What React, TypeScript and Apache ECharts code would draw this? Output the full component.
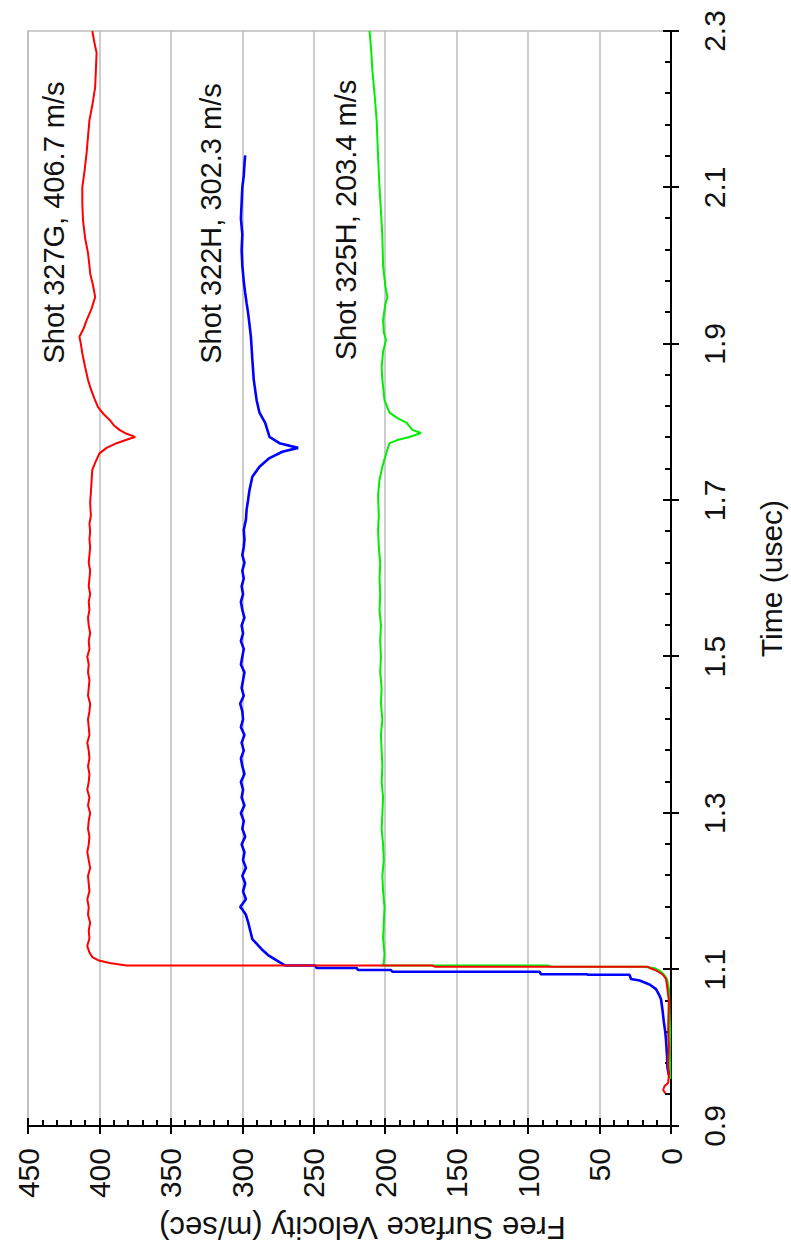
import React, { useEffect, useRef } from "react";
import * as echarts from "echarts";

// Time (usec), velocity (m/s)
const shot327G: number[][] = [
  [0.942, 4], [0.946, 5.5], [0.951, 4.5], [0.955, 2], [0.965, 1.5], [0.98, 2.2], [1.0, 1.5], [1.02, 2],
  [1.04, 1.8], [1.06, 1.5], [1.075, 2.5], [1.088, 3.5], [1.094, 6], [1.099, 10.5], [1.102, 15],
  [1.1035, 16], [1.1035, 165], [1.1052, 167], [1.1052, 381], [1.1083, 393], [1.112, 401], [1.116, 405],
  [1.122, 407], [1.13, 408.5], [1.14, 407], [1.15, 407.5], [1.16, 406.5], [1.17, 408], [1.18, 407.5],
  [1.19, 408.5], [1.2, 407], [1.21, 407.5], [1.22, 408], [1.23, 406.5], [1.24, 407.5], [1.25, 408.5],
  [1.26, 407.5], [1.27, 407], [1.28, 408], [1.29, 407.5], [1.3, 406.5], [1.31, 408], [1.32, 407],
  [1.33, 408.5], [1.34, 407.5], [1.35, 407], [1.36, 408], [1.37, 407], [1.38, 407.5], [1.39, 408.5],
  [1.4, 407], [1.41, 407.5], [1.42, 408], [1.43, 407], [1.44, 406.5], [1.45, 408], [1.46, 407.5],
  [1.47, 407], [1.48, 408], [1.49, 407.5], [1.5, 408.5], [1.51, 407], [1.52, 407.5], [1.53, 406.5],
  [1.54, 407.5], [1.55, 408], [1.56, 407], [1.57, 407.5], [1.58, 406.5], [1.59, 407.5], [1.6, 407],
  [1.61, 406.5], [1.62, 407.5], [1.63, 407], [1.64, 406.5], [1.65, 407], [1.66, 406.5], [1.67, 407],
  [1.68, 406], [1.697, 406.5], [1.71, 406], [1.725, 405.5], [1.739, 405], [1.75, 402.5], [1.76, 400],
  [1.767, 395], [1.773, 388], [1.778, 380], [1.781, 375], [1.785, 381], [1.79, 386], [1.796, 390],
  [1.803, 393], [1.81, 397], [1.819, 401], [1.83, 403.5], [1.842, 406], [1.854, 408], [1.87, 410],
  [1.888, 412], [1.9, 413], [1.909, 414], [1.92, 411], [1.93, 409], [1.945, 405.5], [1.96, 403],
  [1.975, 404.5], [1.99, 406.5], [2.0, 407], [2.016, 408], [2.035, 410], [2.058, 411.5], [2.08, 412],
  [2.1, 412], [2.12, 410.5], [2.144, 409], [2.165, 408], [2.186, 407], [2.205, 405], [2.228, 403],
  [2.25, 402.5], [2.272, 402], [2.285, 403.5], [2.3, 405],
];

const shot322H: number[][] = [
  [0.965, 1.5], [0.975, 2.5], [0.99, 2.8], [1.01, 3.5], [1.02, 4], [1.033, 5], [1.049, 6], [1.062, 7],
  [1.068, 8.4], [1.075, 10.5], [1.081, 15], [1.086, 22], [1.088, 28], [1.0933, 29], [1.0933, 58],
  [1.094, 59], [1.094, 91], [1.0972, 92], [1.0972, 195], [1.0994, 196], [1.0994, 219], [1.102, 220],
  [1.102, 248], [1.1052, 249], [1.1052, 270], [1.1096, 274], [1.1186, 282], [1.126, 286.5], [1.139, 293],
  [1.15, 294.5], [1.161, 296], [1.17, 297.5], [1.177, 300], [1.18, 301.5], [1.19, 297.5], [1.2, 299.5],
  [1.21, 298], [1.22, 300], [1.23, 297.5], [1.24, 299.5], [1.25, 298.5], [1.26, 300.5], [1.27, 298],
  [1.28, 300], [1.29, 299], [1.3, 301], [1.31, 298.5], [1.32, 300.5], [1.33, 299.5], [1.34, 301],
  [1.35, 298.5], [1.36, 300], [1.37, 301], [1.38, 299], [1.39, 300.5], [1.4, 298.5], [1.41, 301],
  [1.42, 299.5], [1.43, 300], [1.44, 301.5], [1.45, 299], [1.46, 300.5], [1.47, 299.5], [1.48, 298.5],
  [1.49, 301], [1.5, 300], [1.51, 299], [1.52, 301], [1.53, 299.5], [1.54, 300.5], [1.55, 298.5],
  [1.56, 300], [1.57, 301], [1.58, 299.5], [1.59, 300.5], [1.6, 299], [1.61, 300], [1.62, 298.5],
  [1.63, 300], [1.64, 299], [1.65, 298.5], [1.662, 299], [1.675, 297.5], [1.688, 297], [1.7, 296],
  [1.713, 295], [1.73, 293], [1.743, 288], [1.754, 281], [1.762, 272], [1.767, 261], [1.773, 274],
  [1.781, 281], [1.79, 282.5], [1.799, 284], [1.812, 288], [1.828, 290], [1.854, 292], [1.867, 292.5],
  [1.88, 293], [1.895, 293.5], [1.909, 294], [1.925, 295], [1.94, 296], [1.952, 297], [1.965, 298],
  [1.98, 299], [2.0, 300], [2.02, 300.5], [2.04, 300], [2.06, 301], [2.08, 300.5], [2.1, 300],
  [2.115, 299], [2.13, 298.5], [2.141, 298],
];

const shot325H: number[][] = [
  [0.96, 0.5], [0.99, 0.8], [1.02, 0.6], [1.042, 1], [1.06, 1.2], [1.075, 1.4], [1.088, 2.8],
  [1.094, 5], [1.099, 8.4], [1.102, 12], [1.1035, 19], [1.1035, 84], [1.1052, 86], [1.1052, 202],
  [1.108, 201], [1.12, 200.5], [1.14, 201.5], [1.16, 201], [1.18, 200.5], [1.2, 201.5], [1.22, 202],
  [1.24, 201], [1.26, 201.5], [1.28, 202.5], [1.3, 202], [1.32, 201.5], [1.34, 202.5], [1.36, 202],
  [1.38, 202.5], [1.4, 203], [1.42, 202], [1.44, 203], [1.46, 202.5], [1.48, 203.5], [1.5, 203],
  [1.52, 203.5], [1.54, 203], [1.56, 204], [1.58, 203.5], [1.6, 204], [1.62, 203.5], [1.64, 204.5],
  [1.662, 205], [1.68, 204.5], [1.707, 205], [1.726, 204], [1.743, 202], [1.762, 199], [1.773, 197],
  [1.777, 191.5], [1.781, 183], [1.786, 175], [1.79, 181], [1.799, 185], [1.805, 191.5], [1.812, 197],
  [1.828, 200.5], [1.854, 202], [1.87, 202.5], [1.89, 201.5], [1.905, 199.5], [1.915, 201],
  [1.93, 201.5], [1.95, 200], [1.96, 198.5], [1.975, 200], [2.0, 201.5], [2.037, 202], [2.07, 203],
  [2.1, 204], [2.14, 205], [2.186, 206], [2.22, 207.5], [2.25, 209], [2.28, 210], [2.3, 211],
];

const annotationTexts = ["Shot 327G, 406.7 m/s", "Shot 322H, 302.3 m/s", "Shot 325H, 203.4 m/s"];

const W = 1257;
const H = 791;
const FONT = '"Liberation Sans", Arial, Helvetica, sans-serif';
const INK = "#111";
const GRID = "#bdbdbd";

export default function App() {
  const ref = useRef<HTMLDivElement>(null);

  useEffect(() => {
    if (!ref.current) return;
    const chart = echarts.init(ref.current, undefined, { renderer: "svg" });
    const tickStyle = { color: "#000", width: 2 };
    const option: any = {
      animation: false,
      backgroundColor: "#fff",
      grid: { left: 131, right: 31, top: 28, bottom: 119, show: true, borderColor: GRID, borderWidth: 1.5 },
      xAxis: [
        {
          type: "value", min: 0.9, max: 2.3, interval: 0.2, position: "bottom",
          name: "Time (usec)", nameLocation: "middle", nameGap: 85,
          nameTextStyle: { fontSize: 30, fontFamily: FONT, color: INK },
          axisLine: { show: true, onZero: false, lineStyle: tickStyle },
          axisTick: { show: true, inside: true, length: 8, lineStyle: tickStyle },
          minorTick: { show: true, splitNumber: 5, length: 6, lineStyle: tickStyle },
          axisLabel: { margin: 28, fontSize: 30, fontFamily: FONT, color: INK, formatter: (v: number) => v.toFixed(1) },
          splitLine: { show: false },
        },
        {
          type: "value", min: 0.9, max: 2.3, interval: 0.2, position: "bottom",
          axisLine: { show: false, onZero: false },
          axisTick: { show: true, inside: false, length: 8, lineStyle: tickStyle },
          axisLabel: { show: false },
          splitLine: { show: false },
        },
      ],
      yAxis: [
        {
          type: "value", min: 0, max: 450, interval: 50, position: "left",
          name: "Free Surface Velocity (m/sec)", nameLocation: "middle", nameGap: 86,
          nameTextStyle: { fontSize: 31, fontFamily: FONT, color: INK, padding: [0, 26, 0, 0] },
          axisLine: { show: true, onZero: false, lineStyle: tickStyle },
          axisTick: { show: true, inside: true, length: 8, lineStyle: tickStyle },
          minorTick: { show: true, splitNumber: 5, length: 6, lineStyle: tickStyle },
          axisLabel: { margin: 22, fontSize: 30, fontFamily: FONT, color: INK },
          splitLine: { show: true, lineStyle: { color: GRID, width: 1.5 } },
        },
        {
          type: "value", min: 0, max: 450, interval: 50, position: "left",
          axisLine: { show: false, onZero: false },
          axisTick: { show: true, inside: false, length: 8, lineStyle: tickStyle },
          axisLabel: { show: false },
          splitLine: { show: false },
        },
      ],
      graphic: annotationTexts.map((text, i) => ({
        type: "text",
        x: [1034.5, 1033.5, 1037][i],
        y: [53.5, 210.5, 345.5][i],
        z: 100,
        style: { text, font: `29px ${FONT}`, fill: INK, align: "center", verticalAlign: "middle" },
      })),
      series: [
        { name: "Shot 325H", type: "line", data: shot325H, showSymbol: false, symbol: "none", silent: true,
          lineStyle: { color: "#00ee00", width: 2 } },
        { name: "Shot 322H", type: "line", data: shot322H, showSymbol: false, symbol: "none", silent: true,
          lineStyle: { color: "#0000ff", width: 2.6 } },
        { name: "Shot 327G", type: "line", data: shot327G, showSymbol: false, symbol: "none", silent: true,
          lineStyle: { color: "#ff0000", width: 2 } },
      ],
    };
    chart.setOption(option);
    return () => chart.dispose();
  }, []);

  return (
    <div style={{ position: "absolute", left: 0, top: 0, width: H, height: W, overflow: "hidden", background: "#fff" }}>
      <div
        ref={ref}
        style={{
          position: "absolute", left: 0, top: 0, width: W, height: H,
          transformOrigin: "0 0", transform: `translate(0px, ${W}px) rotate(-90deg)`,
        }}
      />
    </div>
  );
}
